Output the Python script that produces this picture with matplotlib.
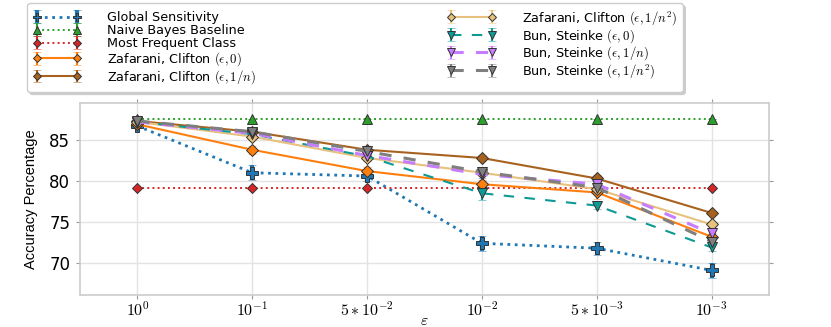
import matplotlib
matplotlib.use('Agg')
import matplotlib.pyplot as plt
import numpy as np

plt.rcParams['mathtext.fontset'] = 'cm'
plt.rcParams['font.family'] = ['DejaVu Sans']

# ---------------- data ----------------
x_labels = [r'$10^{0}$', r'$10^{-1}$', r'$5*10^{-2}$', r'$10^{-2}$', r'$5*10^{-3}$', r'$10^{-3}$']

global_sens = [86.7, 81.0, 80.6, 72.4, 71.8, 69.1]
global_sens_err = [0.3, 0.9, 0.6, 0.9, 0.8, 0.9]

naive_bayes = [87.6, 87.6, 87.6, 87.6, 87.6, 87.6]
naive_bayes_err = [0.0, 0.0, 0.0, 0.0, 0.0, 0.0]

most_frequent = [79.2, 79.2, 79.2, 79.2, 79.2, 79.2]
most_frequent_err = [0.0, 0.0, 0.0, 0.0, 0.0, 0.0]

zc_0 = [86.9, 83.8, 81.2, 79.6, 78.6, 73.2]
zc_0_err = [0.2, 0.5, 0.5, 0.5, 0.8, 0.5]

zc_1n = [87.3, 86.0, 83.8, 82.8, 80.3, 76.1]
zc_1n_err = [0.2, 0.3, 0.5, 0.4, 0.4, 0.2]

zc_1n2 = [87.2, 85.4, 82.8, 81.0, 79.0, 74.7]
zc_1n2_err = [0.2, 0.4, 0.4, 0.6, 0.5, 0.3]

bs_0 = [87.2, 85.7, 83.0, 78.5, 77.0, 71.9]
bs_0_err = [0.2, 0.3, 0.4, 0.8, 0.4, 0.4]

bs_1n = [87.2, 85.8, 83.1, 80.8, 79.6, 73.6]
bs_1n_err = [0.2, 0.3, 0.4, 0.5, 0.4, 0.3]

bs_1n2 = [87.3, 86.0, 83.6, 81.1, 79.2, 72.6]
bs_1n2_err = [0.2, 0.3, 0.4, 0.4, 0.4, 0.4]

labels = [
    'Global Sensitivity',
    'Naive Bayes Baseline',
    'Most Frequent Class',
    r'Zafarani, Clifton $(\epsilon, 0)$',
    r'Zafarani, Clifton $(\epsilon, 1/n)$',
    r'Zafarani, Clifton $(\epsilon, 1/n^2)$',
    r'Bun, Steinke $(\epsilon, 0)$',
    r'Bun, Steinke $(\epsilon, 1/n)$',
    r'Bun, Steinke $(\epsilon, 1/n^2)$',
]

# ---------------- style ----------------
styles = [
    dict(color='#1f77b4', ls=':', lw=2.0, marker='P', ms=8, elw=3.0),
    dict(color='#2ca02c', ls=':', lw=1.4, marker='^', ms=7, elw=1.5),
    dict(color='#d62728', ls=':', lw=1.4, marker='D', ms=5, elw=1.5),
    dict(color='#ff7f0e', ls='-', lw=1.5, marker='D', ms=6, elw=1.5),
    dict(color='#a8621f', ls='-', lw=1.5, marker='D', ms=6, elw=1.5),
    dict(color='#e8c17e', ls='-', lw=1.5, marker='D', ms=6, elw=1.5),
    dict(color='#0d9a94', ls=(0, (5, 5)), lw=1.5, marker='v', ms=7, elw=1.5),
    dict(color='#c77dff', ls=(0, (4, 4)), lw=2.2, marker='v', ms=7, elw=1.5),
    dict(color='#7f7f7f', ls=(0, (4, 4)), lw=2.2, marker='v', ms=7, elw=1.5),
]

values = [global_sens, naive_bayes, most_frequent, zc_0, zc_1n, zc_1n2, bs_0, bs_1n, bs_1n2]
errors = [global_sens_err, naive_bayes_err, most_frequent_err, zc_0_err, zc_1n_err,
          zc_1n2_err, bs_0_err, bs_1n_err, bs_1n2_err]

fig = plt.figure(figsize=(8.31, 3.27), dpi=100)
ax = fig.add_axes([80 / 831, 32 / 327, 689 / 831, 192 / 327])

x = np.arange(len(x_labels))
handles = []
for lab, v, e, st in zip(labels, values, errors, styles):
    h = ax.errorbar(x, v, yerr=e, color=st['color'], ls=st['ls'], lw=st['lw'],
                    marker=st['marker'], ms=st['ms'], mec='#333333', mew=0.7,
                    elinewidth=st['elw'], capsize=3, ecolor=st['color'], label=lab)
    for c in h[1]:
        c.set_alpha(0.5)
    handles.append(h)

ax.set_xlim(-0.5, 5.5)
ax.set_ylim(66.1, 89.5)
ax.set_xticks(x)
ax.set_xticklabels(x_labels, fontsize=11.5)
ax.set_yticks([70, 75, 80, 85])
ax.tick_params(axis='y', labelsize=12, pad=4)
ax.tick_params(axis='x', pad=1)
ax.tick_params(top=True, right=True, direction='out', length=3, color='0.6',
               labeltop=False, labelright=False)
ax.grid(True, color='#e3e3e3', lw=1.0)
ax.set_axisbelow(True)
for s in ax.spines.values():
    s.set_color('#cccccc')
    s.set_linewidth(1.2)

ax.set_xlabel(r'$\varepsilon$', fontsize=11.5)
ax.xaxis.set_label_coords(0.5, -0.095)
ax.set_ylabel('Accuracy Percentage', fontsize=10.5,
              family=['Liberation Sans Narrow', 'Liberation Sans', 'DejaVu Sans'], labelpad=8)

leg = fig.legend(handles, labels, loc='upper left', bbox_to_anchor=(27 / 831, 1 - 3 / 327),
                 ncol=2, fontsize=9.2, numpoints=2, markerscale=0.75,
                 handlelength=3.8, handletextpad=2.0,
                 columnspacing=15.0, borderpad=0.45, labelspacing=0.0, borderaxespad=0,
                 frameon=True, fancybox=True, shadow={'color': '0.8', 'alpha': 1.0})
leg.get_frame().set_edgecolor('#cccccc')

fig.savefig('out.png', dpi=100)
